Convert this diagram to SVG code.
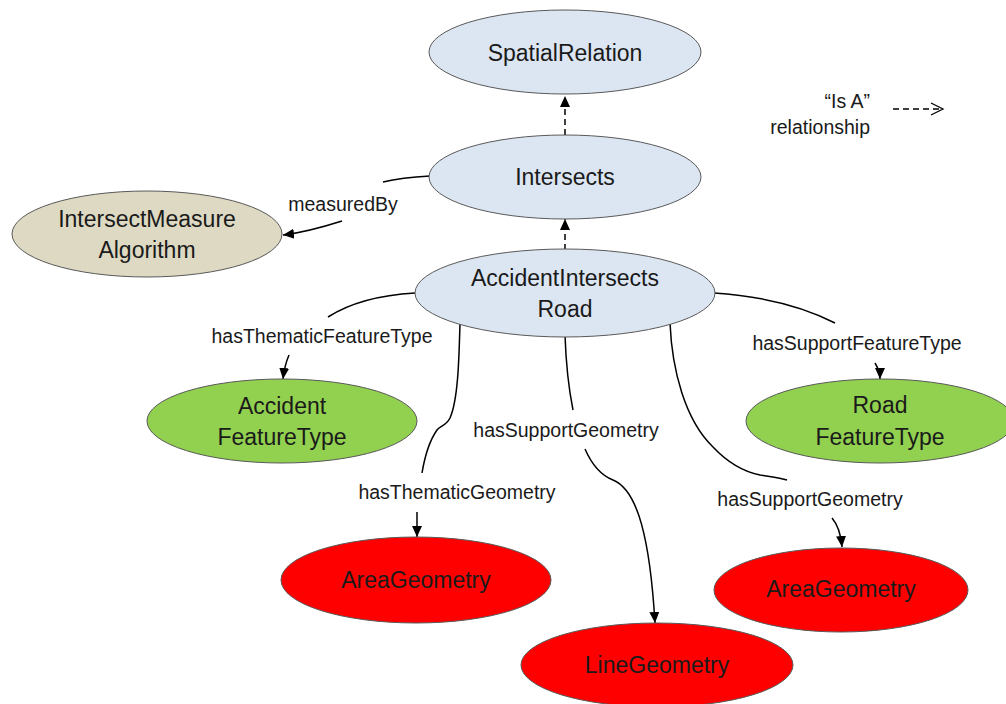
<svg xmlns="http://www.w3.org/2000/svg" width="1006" height="704" viewBox="0 0 1006 704">
<defs>
<marker id="arr" markerUnits="userSpaceOnUse" markerWidth="12" markerHeight="12" viewBox="0 0 12 12" refX="11" refY="6" orient="auto">
<path d="M0,1 L11,6 L0,11 Z" fill="#000"/>
</marker>
</defs>
<style>
.n{stroke:#595959;stroke-width:1}
.blue{fill:#dce6f2}
.beige{fill:#ddd9c3}
.green{fill:#92d050}
.red{fill:#ff0000}
.nt{font-family:"Liberation Sans",Arial,sans-serif;font-size:23px;fill:#1a1a1a;text-anchor:middle}
.et{font-family:"Liberation Sans",Arial,sans-serif;font-size:19.5px;fill:#1a1a1a;text-anchor:middle}
.e{fill:none;stroke:#000;stroke-width:1.5}
.d{fill:none;stroke:#000;stroke-width:1.5;stroke-dasharray:6,4}
</style>
<rect width="1006" height="704" fill="#fff"/>
<g id="connectors">
<path class="d" d="M565,135 L565,96" marker-end="url(#arr)"/>
<path class="d" d="M565,250 L565,219" marker-end="url(#arr)"/>
<path class="e" d="M430,176 C410,177 395,179 383,182"/>
<path class="e" d="M342,221 C320,228 300,233 283,235" marker-end="url(#arr)"/>
<path class="e" d="M415,293 C380,295 350,303 328,317"/>
<path class="e" d="M289,355 C286,362 284,370 283,379" marker-end="url(#arr)"/>
<path class="e" d="M460,323 C459,360 458,400 450,418 C446,426 440,426 437,430 C430,440 425,455 422,473"/>
<path class="e" d="M417,512 L417,537" marker-end="url(#arr)"/>
<path class="e" d="M565,335 C566,365 569,390 573,410"/>
<path class="e" d="M585,449 C592,465 600,475 613,480 C638,490 650,540 655,623" marker-end="url(#arr)"/>
<path class="e" d="M670,323 C672,370 685,420 713,447 C730,465 745,472 760,475 C772,477 780,478 787,480"/>
<path class="e" d="M832,518 C838,525 841,535 842,547" marker-end="url(#arr)"/>
<path class="e" d="M714,293 C760,296 800,305 835,323"/>
<path class="e" d="M875,363 C878,368 880,373 880,379" marker-end="url(#arr)"/>
<text class="et" x="343" y="211">measuredBy</text>
<text class="et" x="322" y="343">hasThematicFeatureType</text>
<text class="et" x="457" y="499">hasThematicGeometry</text>
<text class="et" x="566" y="437">hasSupportGeometry</text>
<text class="et" x="810" y="506">hasSupportGeometry</text>
<text class="et" x="857" y="350">hasSupportFeatureType</text>
</g>
<g id="legend">
<text class="et" x="870" y="108" style="text-anchor:end">“Is A”</text>
<text class="et" x="870" y="134" style="text-anchor:end">relationship</text>
<path class="d" d="M893,109 L940,109" stroke-dasharray="6,5" style="stroke-width:1.3"/>
<path d="M931,103 L943,109 L931,115" fill="none" stroke="#000" stroke-width="1.3"/>
</g>
<g id="SpatialRelation">
<ellipse class="n blue" cx="565" cy="52" rx="136" ry="42"/>
<text class="nt" x="565" y="61">SpatialRelation</text>
</g>
<g id="Intersects">
<ellipse class="n blue" cx="565" cy="177" rx="136" ry="42"/>
<text class="nt" x="565" y="185">Intersects</text>
</g>
<g id="AccidentIntersectsRoad">
<ellipse class="n blue" cx="565" cy="293" rx="150" ry="44"/>
<text class="nt" x="565" y="286">AccidentIntersects</text>
<text class="nt" x="565" y="317">Road</text>
</g>
<g id="IntersectMeasureAlgorithm">
<ellipse class="n beige" cx="147" cy="234" rx="135" ry="43"/>
<text class="nt" x="147" y="227">IntersectMeasure</text>
<text class="nt" x="147" y="258">Algorithm</text>
</g>
<g id="AccidentFeatureType">
<ellipse class="n green" cx="282" cy="421" rx="135" ry="42"/>
<text class="nt" x="282" y="414">Accident</text>
<text class="nt" x="282" y="445">FeatureType</text>
</g>
<g id="RoadFeatureType">
<ellipse class="n green" cx="880" cy="421" rx="134" ry="42"/>
<text class="nt" x="880" y="413">Road</text>
<text class="nt" x="880" y="445">FeatureType</text>
</g>
<g id="AreaGeometryThematic">
<ellipse class="n red" cx="416" cy="580" rx="135" ry="43"/>
<text class="nt" x="416" y="588">AreaGeometry</text>
</g>
<g id="LineGeometry">
<ellipse class="n red" cx="657" cy="665" rx="136" ry="42"/>
<text class="nt" x="657" y="673">LineGeometry</text>
</g>
<g id="AreaGeometrySupport">
<ellipse class="n red" cx="841" cy="590" rx="127" ry="42"/>
<text class="nt" x="841" y="597">AreaGeometry</text>
</g>
</svg>
